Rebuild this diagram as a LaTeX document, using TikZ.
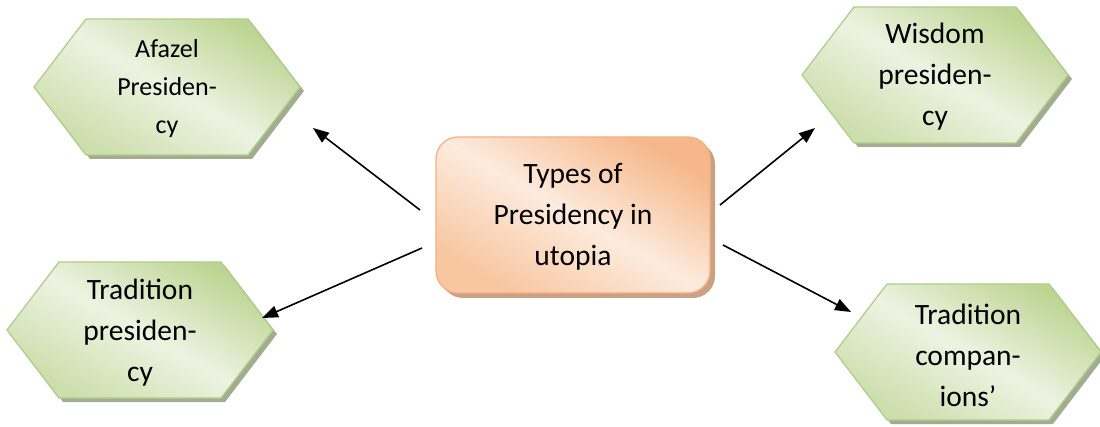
\documentclass[tikz,border=0pt]{standalone}
\usepackage{fontspec}
\setmainfont{Carlito}
\usetikzlibrary{arrows.meta}
\definecolor{gdark}{HTML}{BDD593}
\definecolor{gmid}{HTML}{EDF3E2}
\definecolor{glow}{HTML}{CCDEAB}
\definecolor{gborder}{HTML}{B2CD8A}
\definecolor{gshadow}{HTML}{A2AC90}
\definecolor{odark}{HTML}{F6B88A}
\definecolor{omid}{HTML}{FDEBDE}
\definecolor{olow}{HTML}{F8C6A0}
\definecolor{oborder}{HTML}{F4B183}
\definecolor{oshadow}{HTML}{C9A184}
\newcommand\hexshape[3]{% cx, cy, style
  \path[#3] (#1-133,#2) -- (#1-81,#2-68) -- (#1+81,#2-68) -- (#1+133,#2)
        -- (#1+81,#2+68) -- (#1-81,#2+68) -- cycle;}
\begin{document}
\begin{tikzpicture}[x=1pt,y=-1pt,
  hexfill/.style={draw=gborder,line width=1.3pt,top color=gdark,bottom color=glow,middle color=gmid,shading angle=-30},
  hexshadow/.style={fill=gshadow},
  hextext/.style={align=center,font=\fontsize{29.5}{41}\selectfont,text=black},
  smalltext/.style={align=center,font=\fontsize{26}{38}\selectfont,text=black},
  mainbox/.style={draw=oborder,line width=1.3pt,rounded corners=22pt,minimum width=274pt,minimum height=156pt,
    top color=odark,bottom color=olow,middle color=omid,shading angle=-30},
  arr/.style={-{Triangle[length=16pt,width=12pt]},line width=1.6pt,black}]
\useasboundingbox (0,0) rectangle (1100,427);
% shadows
\hexshape{171}{91}{hexshadow}
\hexshape{939}{79}{hexshadow}
\hexshape{144}{334}{hexshadow}
\hexshape{972}{356}{hexshadow}
\fill[oshadow,rounded corners=22pt] (441,142) rectangle (715,298);
% hexagons
\hexshape{167}{87}{hexfill}
\hexshape{935}{75}{hexfill}
\hexshape{140}{330}{hexfill}
\hexshape{968}{352}{hexfill}
\node[smalltext] (afazel) at (167,89) {Afazel\\Presiden-\\cy};
\node[hextext] (wisdom) at (935,77) {Wisdom\\presiden-\\cy};
\node[hextext] (tradp) at (140,333) {Tradition\\presiden-\\cy};
\node[hextext] (tradc) at (968,355) {Tradition\\compan-\\ions’};
\node[mainbox] (center) at (573,215) {};
\node[align=center,font=\fontsize{29.5}{41}\selectfont] (ctext) at (573,217) {Types of\\Presidency in\\utopia};
% arrow ends
\coordinate (s1) at (420,210); \coordinate (e1) at (313,128);
\coordinate (s2) at (422,248); \coordinate (e2) at (262,318);
\coordinate (s3) at (720,205); \coordinate (e3) at (815,128);
\coordinate (s4) at (723,245); \coordinate (e4) at (851,312);
\draw[arr] (s1) -- (e1);
\draw[arr] (s2) -- (e2);
\draw[arr] (s3) -- (e3);
\draw[arr] (s4) -- (e4);
\end{tikzpicture}
\end{document}
